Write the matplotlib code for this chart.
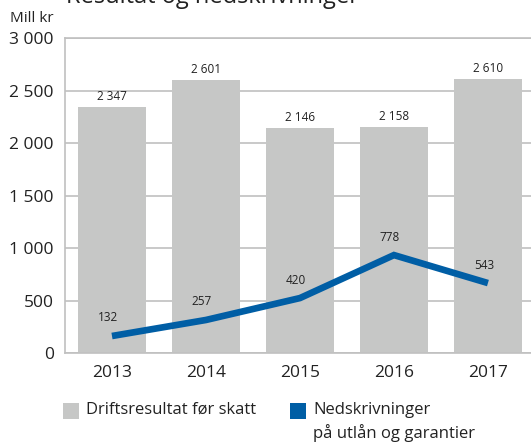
import matplotlib.pyplot as plt
from matplotlib.patches import Rectangle

plt.rcParams['font.family'] = ['Open Sans', 'DejaVu Sans']

years = ['2013', '2014', '2015', '2016', '2017']
drift = [2347, 2601, 2146, 2158, 2610]
# line is drawn on its own scale in the source; positions
nedskr_plot = [162, 315, 524, 934, 667]
nedskr_labels = [132, 257, 420, 778, 543]
yticks = [0, 500, 1000, 1500, 2000, 2500, 3000]

BAR_COLOR = '#c6c7c6'
LINE_COLOR = '#005ea5'
GRID_COLOR = '#c0c0c0'
TEXT_COLOR = '#222222'

W, H = 531, 447


def fmt(v):
    return f'{v:,}'.replace(',', ' ')


def px(x, y):
    # figure pixel (from top-left) -> figure fraction
    return x / W, 1 - y / H


fig = plt.figure(figsize=(W / 100, H / 100), dpi=100)
ax = fig.add_axes([0.1224, 0.2103, 0.885, 0.7036])

x = range(len(years))
ax.bar(x, drift, width=0.72, color=BAR_COLOR, zorder=2)
ax.plot(x, nedskr_plot, color=LINE_COLOR, linewidth=4.8, zorder=3,
        solid_capstyle='butt', solid_joinstyle='miter')

for i, v in enumerate(drift):
    ax.annotate(fmt(v), (i, v), xytext=(0, 3), textcoords='offset points',
                ha='center', va='bottom', fontsize=8.5, color=TEXT_COLOR)
for i, (v, lab) in enumerate(zip(nedskr_plot, nedskr_labels)):
    ax.annotate(str(lab), (i, v), xytext=(-3, 13), textcoords='offset points',
                ha='center', va='center', fontsize=8.5, color=TEXT_COLOR)

ax.set_xlim(-0.5, 4.5)
ax.set_ylim(0, 3000)
ax.set_yticks(yticks)
ax.set_yticklabels([fmt(t) for t in yticks])
ax.set_xticks(list(x))
ax.set_xticklabels(years)
ax.yaxis.grid(True, color=GRID_COLOR, linewidth=1.2, zorder=1)
ax.set_axisbelow(True)
ax.tick_params(axis='both', length=0, labelsize=12.5, colors=TEXT_COLOR)
ax.tick_params(axis='y', pad=8)
ax.tick_params(axis='x', pad=9)
for side in ['left', 'top', 'bottom']:
    ax.spines[side].set_color(GRID_COLOR)
    ax.spines[side].set_linewidth(1.2)
ax.spines['right'].set_visible(False)

fig.text(*px(10, 18), 'Mill kr', fontsize=11, ha='left', va='center', color=TEXT_COLOR)
fig.text(*px(66, 3), 'Resultat og nedskrivninger', fontsize=17,
         ha='left', va='baseline', color=TEXT_COLOR)

# legend, drawn by hand so the swatch sits on the first text line
legend_items = [
    (63, BAR_COLOR, 'Driftsresultat før skatt'),
    (290, LINE_COLOR, 'Nedskrivninger\npå utlån og garantier'),
]
for x0, color, label in legend_items:
    fx, fy = px(x0, 419)
    fig.patches.append(Rectangle((fx, fy), 16 / W, 16 / H, transform=fig.transFigure,
                                 facecolor=color, edgecolor='none'))
    fig.text(*px(x0 + 23, 402), label, fontsize=12, ha='left', va='top',
             linespacing=1.45, color=TEXT_COLOR)

fig.savefig('out.png', dpi=100)
